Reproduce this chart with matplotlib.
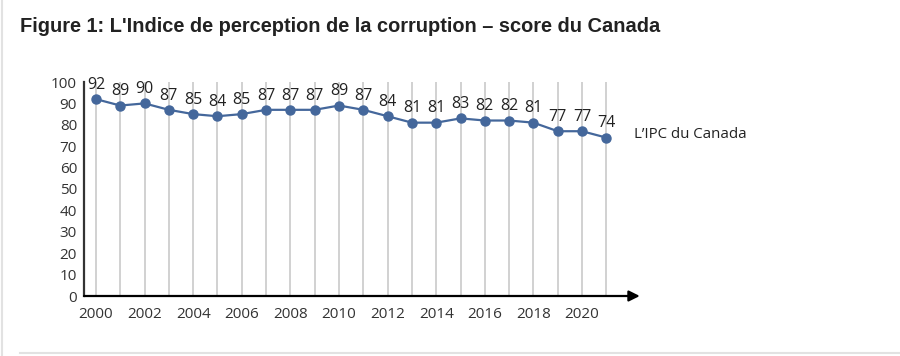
import matplotlib.pyplot as plt
from matplotlib.lines import Line2D

# data
years = list(range(2000, 2022))
scores = [92, 89, 90, 87, 85, 84, 85, 87, 87, 87, 89, 87, 84, 81, 81, 83, 82, 82, 81, 77, 77, 74]
xtick_years = list(range(2000, 2021, 2))
ytick_values = list(range(0, 101, 10))
series_label = "L\u2019IPC du Canada"
title = "Figure 1: L'Indice de perception de la corruption \u2013 score du Canada"

line_col = '#44679b'
text_col = '#333333'

fig = plt.figure(figsize=(9, 3.56), dpi=100)
ax = fig.add_axes([84 / 900, 60 / 356, 553 / 900, 214 / 356])

# vertical grid at every year
for y in years:
    ax.plot([y, y], [0, 100], color='#c9c9c9', lw=1.2, zorder=1)

ax.plot(years, scores, color=line_col, lw=1.6, marker='o', ms=6.5, zorder=3)
for y, s in zip(years, scores):
    ax.annotate(str(s), (y, s), xytext=(0, 4.5), textcoords='offset points',
                ha='center', va='bottom', fontsize=11.5, color='#222222',
                family='Open Sans', annotation_clip=False)
ax.annotate(series_label, (years[-1], scores[-1]), xytext=(19.7, 2), textcoords='offset points',
            ha='left', va='center', fontsize=10.8, color='#222222', family='Open Sans',
            annotation_clip=False)

ax.set_xlim(1999.51, 2022.26)
ax.set_ylim(0, 100)
ax.set_xticks(xtick_years)
ax.set_yticks(ytick_values)
ax.tick_params(length=0, labelsize=11, labelcolor=text_col)
ax.tick_params(axis='x', pad=8)
ax.tick_params(axis='y', pad=5)
for lab in ax.get_xticklabels() + ax.get_yticklabels():
    lab.set_family('Open Sans')
for sp in ['top', 'right', 'bottom']:
    ax.spines[sp].set_visible(False)
ax.spines['left'].set_color('#333333')
ax.spines['left'].set_linewidth(1.6)

# x axis with arrow
ax.annotate('', xy=(1.005, 0), xytext=(0, 0), xycoords='axes fraction',
            arrowprops=dict(arrowstyle='-|>', color='black', lw=1.6, mutation_scale=16,
                            shrinkA=0, shrinkB=0))

fig.text(20 / 900, 1 - 27 / 356, title, fontsize=14.4, fontweight='bold', color='#222222',
         family='Liberation Sans', va='center', ha='left')

# page frame
fig.add_artist(Line2D([2 / 900, 2 / 900], [0, 1], color='#e2e2e2', lw=1.5))
fig.add_artist(Line2D([20 / 900, 1], [3 / 356, 3 / 356], color='#e2e2e2', lw=1.5))

fig.savefig('out.png', dpi=100)
